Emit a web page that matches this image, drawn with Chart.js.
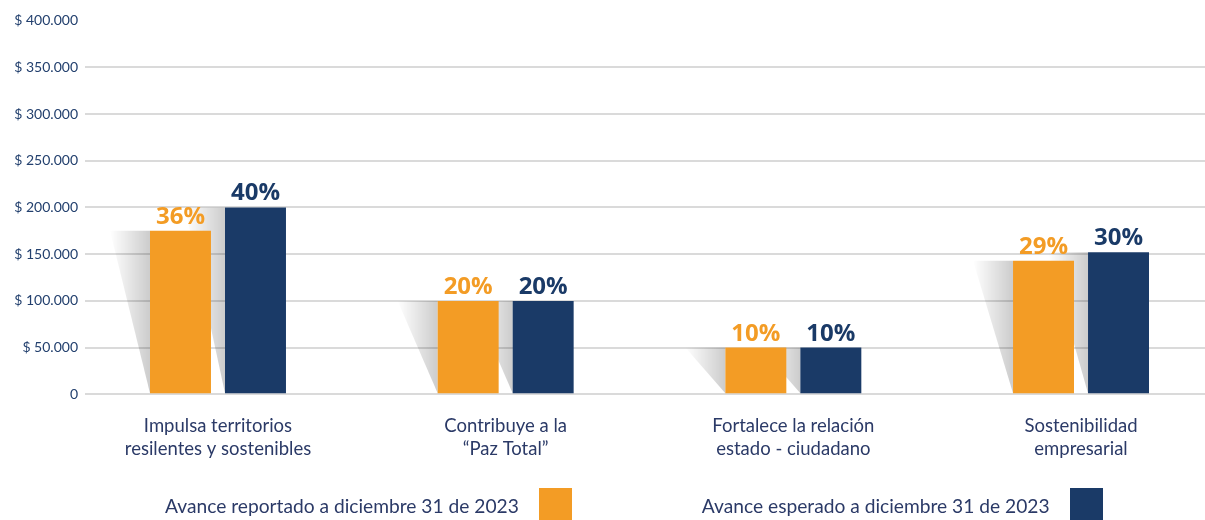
<!DOCTYPE html>
<html>
<head>
<meta charset="utf-8">
<script src="https://cdn.jsdelivr.net/npm/chart.js@4/dist/chart.umd.min.js"></script>
<style>
  body { margin: 0; background: #fff; }
  #wrap { position: relative; width: 1205px; height: 520px; overflow: hidden; }
  #legend { position: absolute; left: 165px; top: 488px; display: flex; gap: 130px; }
  .item { display: flex; align-items: center; font: 19.2px Lato, sans-serif; color: #2b3a67; }
  .item span.txt { padding-top: 1px; }
  .item span.box { width: 33px; height: 34px; margin-left: 20px; }
</style>
</head>
<body>
<div id="wrap">
  <canvas id="myChart"></canvas>
  <div id="legend"></div>
</div>
<script>
// datos
var categories = [
  ['Impulsa territorios', 'resilentes y sostenibles'],
  ['Contribuye a la', '\u201cPaz Total\u201d'],
  ['Fortalece la relación', 'estado - ciudadano'],
  ['Sostenibilidad', 'empresarial']
];
var reportado = [175000, 100000, 50000, 143000];
var esperado = [200000, 100000, 50000, 152000];
var reportadoPct = ['36%', '20%', '10%', '29%'];
var esperadoPct = ['40%', '20%', '10%', '30%'];
var yTicks = [0, 50000, 100000, 150000, 200000, 250000, 300000, 350000, 400000];
var seriesNames = ['Avance reportado a diciembre 31 de 2023', 'Avance esperado a diciembre 31 de 2023'];

var orange = '#F39C25';
var navy = '#1A3A67';
var textColor = '#2b3a67';

function money(v) {
  if (v === 0) return '0';
  return '$ ' + String(v).replace(/\B(?=(\d{3})+(?!\d))/g, '.');
}

// sombra gris a la izquierda de cada barra
var barShadow = {
  id: 'barShadow',
  beforeDatasetsDraw: function (chart) {
    var ctx = chart.ctx;
    ctx.save();
    chart.data.datasets.forEach(function (ds, i) {
      chart.getDatasetMeta(i).data.forEach(function (bar) {
        var left = bar.x - bar.width / 2;
        var g = ctx.createLinearGradient(left - 40, 0, left, 0);
        g.addColorStop(0, 'rgba(0,0,0,0)');
        g.addColorStop(1, 'rgba(0,0,0,0.2)');
        ctx.fillStyle = g;
        ctx.beginPath();
        ctx.moveTo(left - 40, bar.y);
        ctx.lineTo(left, bar.y);
        ctx.lineTo(left, bar.base);
        ctx.closePath();
        ctx.fill();
      });
    });
    ctx.restore();
  }
};

// porcentajes encima de las barras
var pctLabels = {
  id: 'pctLabels',
  afterDatasetsDraw: function (chart) {
    var ctx = chart.ctx;
    ctx.save();
    ctx.font = '700 24px "Open Sans"';
    ctx.textAlign = 'center';
    ctx.textBaseline = 'alphabetic';
    chart.data.datasets.forEach(function (ds, i) {
      chart.getDatasetMeta(i).data.forEach(function (bar, j) {
        ctx.fillStyle = ds.backgroundColor;
        ctx.fillText(ds.pct[j], bar.x, bar.y - 7);
      });
    });
    ctx.restore();
  }
};

var data = {
  datasets: [{
    label: seriesNames[0],
    backgroundColor: orange,
    pct: reportadoPct,
    data: reportado.map(function (v, i) { return { x: i, y: v }; })
  }, {
    label: seriesNames[1],
    backgroundColor: navy,
    pct: esperadoPct,
    data: esperado.map(function (v, i) { return { x: i, y: v }; })
  }]
};

var options = {
  responsive: true,
  maintainAspectRatio: false,
  animation: false,
  categoryPercentage: 0.5214,
  barPercentage: 0.813,
  layout: { padding: { top: 20.6, right: 0, bottom: 0, left: 0 } },
  plugins: { legend: { display: false }, tooltip: { enabled: false } },
  scales: {
    x: {
      type: 'linear',
      min: -0.4623,
      max: 3.431,
      offset: false,
      grid: { display: false, drawTicks: false, offset: false },
      border: { display: false },
      afterBuildTicks: function (s) {
        s.ticks = categories.map(function (c, i) { return { value: i }; });
      },
      afterFit: function (s) { s.height = 125.7; },
      ticks: {
        autoSkip: false,
        maxRotation: 0,
        padding: 21,
        color: textColor,
        font: { family: 'Lato', size: 18.5, lineHeight: 1.2 },
        callback: function (v, i) { return categories[i]; }
      }
    },
    y: {
      min: 0,
      max: 400000,
      border: { display: false },
      grid: {
        drawTicks: false,
        lineWidth: 2,
        color: function (c) { return c.tick && c.tick.value === 400000 ? 'rgba(0,0,0,0)' : '#dadada'; }
      },
      afterBuildTicks: function (s) {
        s.ticks = yTicks.map(function (v) { return { value: v }; });
      },
      afterFit: function (s) { s.width = 85; },
      ticks: {
        padding: 7,
        color: '#23406e',
        font: { family: 'Lato', size: 14 },
        callback: function (v) { return money(v); }
      }
    }
  }
};

var ctx = document.getElementById('myChart').getContext('2d');
var myChart = new Chart(ctx, {
  type: 'bar',
  data: data,
  options: options,
  plugins: [barShadow, pctLabels]
});

// leyenda en html (texto a la izquierda, cuadro a la derecha)
var legend = document.getElementById('legend');
myChart.data.datasets.forEach(function (ds) {
  var item = document.createElement('div');
  item.className = 'item';
  var t = document.createElement('span');
  t.className = 'txt';
  t.textContent = ds.label;
  var b = document.createElement('span');
  b.className = 'box';
  b.style.background = ds.backgroundColor;
  item.appendChild(t);
  item.appendChild(b);
  legend.appendChild(item);
});
</script>
</body>
</html>
